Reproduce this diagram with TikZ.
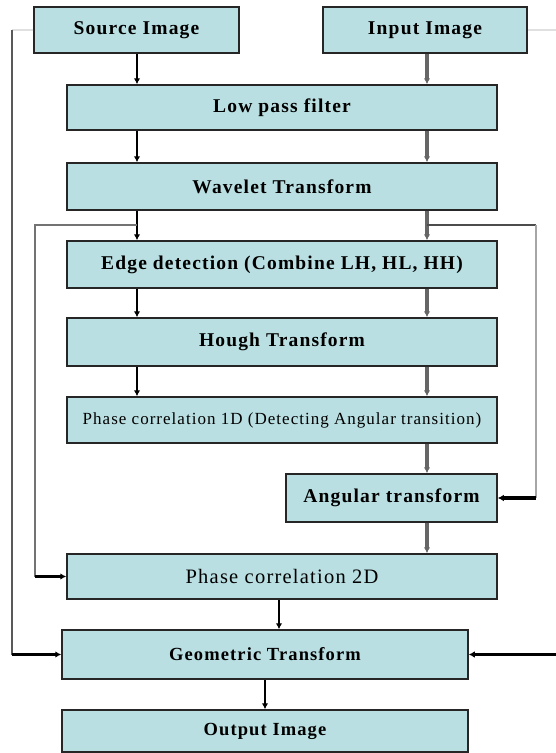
\documentclass[tikz,border=0pt]{standalone}
\usepackage{fontspec}
\setmainfont{Liberation Serif}
\newfontfamily\labelfont[LetterSpace=6]{Liberation Serif}
\usetikzlibrary{arrows.meta}
\definecolor{boxfill}{HTML}{B9DFE2}
\tikzset{
  box/.style={draw=black!85, line width=1.5pt, fill=boxfill, inner sep=0pt,
    font=\labelfont\fontsize{19.5}{21}\selectfont\bfseries},
  smallbold/.style={font=\labelfont\fontsize{18.5}{20}\selectfont\bfseries},
  plain/.style={font=\labelfont\fontsize{17}{19}\selectfont\mdseries},
  tip/.style={-{Latex[length=6pt,width=6.5pt]}},
  leftflow/.style={tip, draw=black, line width=2.3pt},
  rightflow/.style={tip, draw=black!60, line width=4pt},
}
\begin{document}
\begin{tikzpicture}[x=1pt, y=-1pt]
\useasboundingbox (0,0) rectangle (555,753);

% processing blocks
\node[box, minimum width=205pt, minimum height=46pt] (src) at (136.5,30) {Source Image};
\node[box, minimum width=204pt, minimum height=46pt] (inp) at (425,30) {Input Image};
\node[box, minimum width=430pt, minimum height=45pt] (lpf) at (282,107.5) {Low pass filter};
\node[box, minimum width=430pt, minimum height=47pt] (wav) at (282,186.5) {Wavelet Transform};
\node[box, minimum width=430pt, minimum height=47pt] (edge) at (282,264.5) {Edge detection (Combine LH, HL, HH)};
\node[box, minimum width=430pt, minimum height=48pt] (hough) at (282,342) {Hough Transform};
\node[box, plain, minimum width=430pt, minimum height=46pt] (ph1) at (282,420) {Phase correlation 1D (Detecting Angular transition)};
\node[box, minimum width=211pt, minimum height=48pt] (ang) at (391.5,498) {Angular transform};
\node[box, plain, font=\labelfont\fontsize{20.5}{22}\selectfont, minimum width=430pt, minimum height=45pt] (ph2) at (282,576.5) {Phase correlation 2D};
\node[box, smallbold, minimum width=406pt, minimum height=49pt] (geo) at (265,654.5) {Geometric Transform};
\node[box, smallbold, minimum width=406pt, minimum height=42pt] (out) at (265,731) {Output Image};

% column positions and routing points
\coordinate (cl) at (137,0);
\coordinate (cr) at (427,0);
\coordinate (bl) at (137,225);
\coordinate (br) at (427,225);
\coordinate (bll) at (35,225);
\coordinate (brr) at (536,225);
\coordinate (ol) at (12,30);
\coordinate (orr) at (556,30);
\coordinate (orb) at (556,654.5);
\coordinate (mid) at (279,0);

% left column
\draw[leftflow] (src.south -| cl) -- (lpf.north -| cl);
\draw[leftflow] (lpf.south -| cl) -- (wav.north -| cl);
\draw[leftflow] (wav.south -| cl) -- (edge.north -| cl);
\draw[leftflow] (edge.south -| cl) -- (hough.north -| cl);
\draw[leftflow] (hough.south -| cl) -- (ph1.north -| cl);

% right column
\draw[rightflow] (inp.south -| cr) -- (lpf.north -| cr);
\draw[rightflow] (lpf.south -| cr) -- (wav.north -| cr);
\draw[rightflow] (wav.south -| cr) -- (edge.north -| cr);
\draw[rightflow] (edge.south -| cr) -- (hough.north -| cr);
\draw[rightflow] (hough.south -| cr) -- (ph1.north -| cr);
\draw[rightflow] (ph1.south -| cr) -- (ang.north -| cr);
\draw[rightflow] (ang.south -| cr) -- (ph2.north -| cr);

% wavelet branches
\draw[black!55, line width=2.8pt] (bl) -- (bll) -- (bll |- ph2.west);
\draw[leftflow, line width=2.8pt] (bll |- ph2.west) -- (ph2.west);
\draw[black!70, line width=2.8pt] (br) -- (brr);
\draw[black!35, line width=2.8pt] (brr) -- (brr |- ang.east);
\draw[tip, black, line width=3.4pt] (brr |- ang.east) -- (ang.east);

% bottom chain
\draw[leftflow] (ph2.south -| mid) -- (geo.north -| mid);
\draw[leftflow] (geo.south) -- (out.north);

% outer loops into the geometric transform
\draw[black!12, line width=2pt] (src.west |- ol) -- (ol);
\draw[black!65, line width=2.8pt] (ol) -- (ol |- geo.west);
\draw[leftflow, line width=2.8pt] (ol |- geo.west) -- (geo.west);
\draw[black!12, line width=2pt] (inp.east |- orr) -- (orr);
\draw[leftflow, line width=2.8pt] (orb) -- (geo.east);
\end{tikzpicture}
\end{document}
